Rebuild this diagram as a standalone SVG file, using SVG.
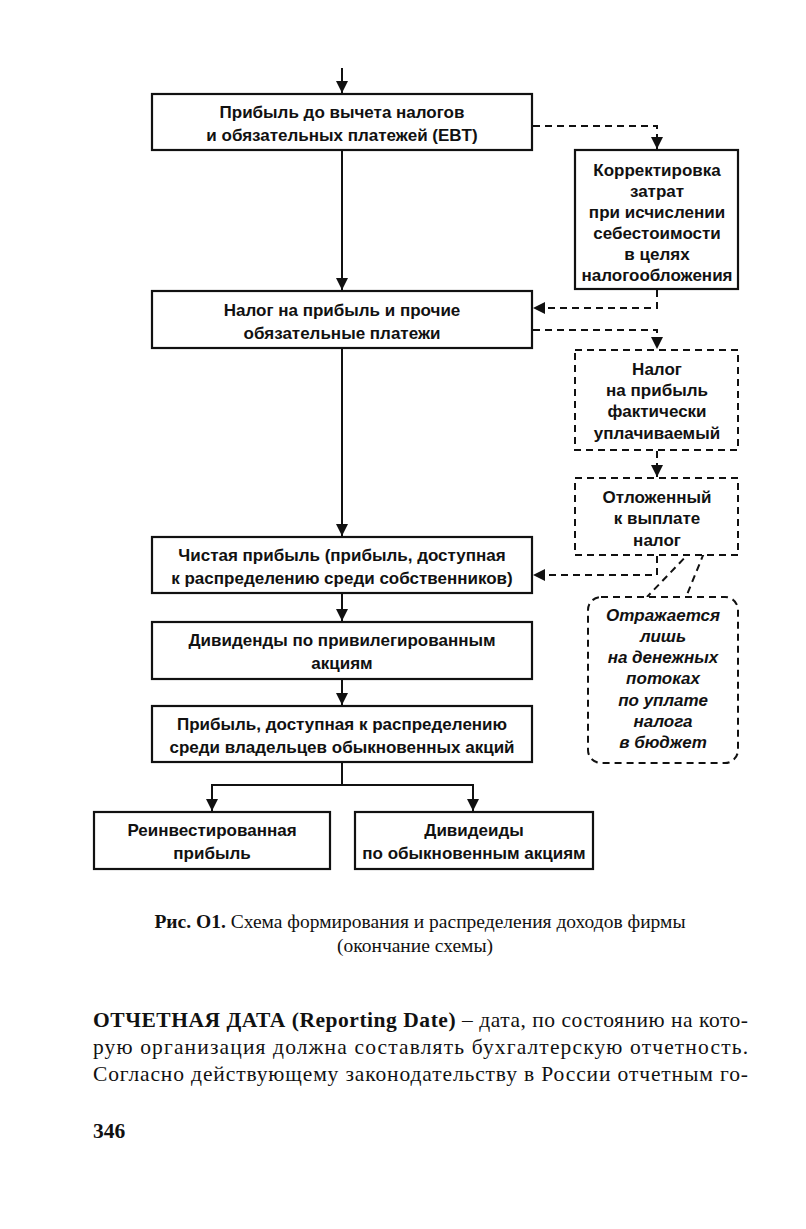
<svg xmlns="http://www.w3.org/2000/svg" width="806" height="1229" viewBox="0 0 806 1229">
<defs>
<marker id="ahs" viewBox="0 0 10 10" refX="10" refY="5" markerWidth="12" markerHeight="12" markerUnits="userSpaceOnUse" orient="auto"><path d="M0,0 L10,5 L0,10 z" fill="#111"/></marker>
</defs>
<style>
.box{fill:#fff;stroke:#111;stroke-width:2.2}
.dbox{fill:#fff;stroke:#111;stroke-width:2;stroke-dasharray:7,5}
.t{font-family:"Liberation Sans",Arial,sans-serif;font-weight:bold;font-size:17px;fill:#111;text-anchor:middle}
.ti{font-family:"Liberation Sans",Arial,sans-serif;font-weight:bold;font-style:italic;font-size:17px;fill:#111;text-anchor:middle}
.c{stroke:#111;stroke-width:2;fill:none}
.d{stroke:#111;stroke-width:2;fill:none;stroke-dasharray:7,5}
.cap{font-family:"Liberation Serif","Times New Roman",serif;font-size:19.5px;fill:#111;text-anchor:middle}
.body{font-family:"Liberation Serif","Times New Roman",serif;font-size:21.5px;fill:#111}
</style>
<rect width="806" height="1229" fill="#fff"/>
<g id="connectors">
<line class="c" x1="342" y1="68" x2="342" y2="93" marker-end="url(#ahs)"/>
<line class="c" x1="342" y1="150" x2="342" y2="290" marker-end="url(#ahs)"/>
<line class="c" x1="342" y1="348" x2="342" y2="536" marker-end="url(#ahs)"/>
<line class="c" x1="342" y1="593" x2="342" y2="621" marker-end="url(#ahs)"/>
<line class="c" x1="342" y1="679" x2="342" y2="705" marker-end="url(#ahs)"/>
<polyline class="c" points="342,762 342,785 212,785 212,811" marker-end="url(#ahs)"/>
<polyline class="c" points="342,785 473,785 473,811" marker-end="url(#ahs)"/>
<polyline class="d" points="533,126 657,126 657,149" marker-end="url(#ahs)"/>
<polyline class="d" points="657,290 657,308 533,308" marker-end="url(#ahs)"/>
<polyline class="d" points="533,330 657,330 657,349" marker-end="url(#ahs)"/>
<line class="d" x1="657" y1="451" x2="657" y2="477" marker-end="url(#ahs)"/>
<polyline class="d" points="657,556 657,575 533,575" marker-end="url(#ahs)"/>
<line class="d" x1="717" y1="524" x2="647" y2="597"/>
<line class="d" x1="713" y1="531" x2="686" y2="597"/>
</g>
<g id="n1">
<rect class="box" x="152" y="94" width="380" height="56"/>
<text class="t" x="342" y="118">Прибыль до вычета налогов</text>
<text class="t" x="342" y="141">и обязательных платежей (EBT)</text>
</g>
<g id="n2">
<rect class="box" x="575" y="150" width="163" height="139"/>
<text class="t" x="657" y="176">Корректировка</text>
<text class="t" x="657" y="197">затрат</text>
<text class="t" x="657" y="218">при исчислении</text>
<text class="t" x="657" y="239">себестоимости</text>
<text class="t" x="657" y="260">в целях</text>
<text class="t" x="657" y="281">налогообложения</text>
</g>
<g id="n3">
<rect class="box" x="152" y="291" width="380" height="57"/>
<text class="t" x="342" y="316">Налог на прибыль и прочие</text>
<text class="t" x="342" y="339">обязательные платежи</text>
</g>
<g id="n4">
<rect class="dbox" x="575" y="350" width="163" height="100"/>
<text class="t" x="657" y="375">Налог</text>
<text class="t" x="657" y="396">на прибыль</text>
<text class="t" x="657" y="417">фактически</text>
<text class="t" x="657" y="439">уплачиваемый</text>
</g>
<g id="n5">
<rect class="dbox" x="575" y="478" width="163" height="77"/>
<text class="t" x="657" y="503">Отложенный</text>
<text class="t" x="657" y="524">к выплате</text>
<text class="t" x="657" y="546">налог</text>
</g>
<g id="n6">
<rect class="box" x="152" y="537" width="380" height="56"/>
<text class="t" x="342" y="561">Чистая прибыль (прибыль, доступная</text>
<text class="t" x="342" y="584">к распределению среди собственников)</text>
</g>
<g id="n7">
<rect class="box" x="152" y="622" width="380" height="57"/>
<text class="t" x="342" y="646">Дивиденды по привилегированным</text>
<text class="t" x="342" y="669">акциям</text>
</g>
<g id="n8">
<rect class="box" x="152" y="706" width="380" height="56"/>
<text class="t" x="342" y="730">Прибыль, доступная к распределению</text>
<text class="t" x="342" y="753">среди владельцев обыкновенных акций</text>
</g>
<g id="n9">
<rect class="box" x="94" y="812" width="236" height="57"/>
<text class="t" x="212" y="836">Реинвестированная</text>
<text class="t" x="212" y="859">прибыль</text>
</g>
<g id="n10">
<rect class="box" x="355" y="812" width="238" height="57"/>
<text class="t" x="474" y="836">Дивидеиды</text>
<text class="t" x="474" y="859">по обыкновенным акциям</text>
</g>
<g id="n11">
<rect class="dbox" x="588" y="597" width="150" height="166" rx="13"/>
<text class="ti" x="663" y="621">Отражается</text>
<text class="ti" x="663" y="642">лишь</text>
<text class="ti" x="663" y="663">на денежных</text>
<text class="ti" x="663" y="684">потоках</text>
<text class="ti" x="663" y="706">по уплате</text>
<text class="ti" x="663" y="727">налога</text>
<text class="ti" x="663" y="748">в бюджет</text>
</g>
<g id="caption">
<text class="cap" x="420" y="928"><tspan font-weight="bold">Рис. О1.</tspan> Схема формирования и распределения доходов фирмы</text>
<text class="cap" x="415" y="952">(окончание схемы)</text>
</g>
<g id="bodytext">
<text class="body" x="93" y="1027" textLength="655" lengthAdjust="spacing"><tspan font-weight="bold">ОТЧЕТНАЯ ДАТА (Reporting Date)</tspan> – дата, по состоянию на кото-</text>
<text class="body" x="93" y="1054" textLength="655" lengthAdjust="spacing">рую организация должна составлять бухгалтерскую отчетность.</text>
<text class="body" x="93" y="1081" textLength="655" lengthAdjust="spacing">Согласно действующему законодательству в России отчетным го-</text>
<text class="body" x="93" y="1138" font-weight="bold" font-size="21px">346</text>
</g>
</svg>
